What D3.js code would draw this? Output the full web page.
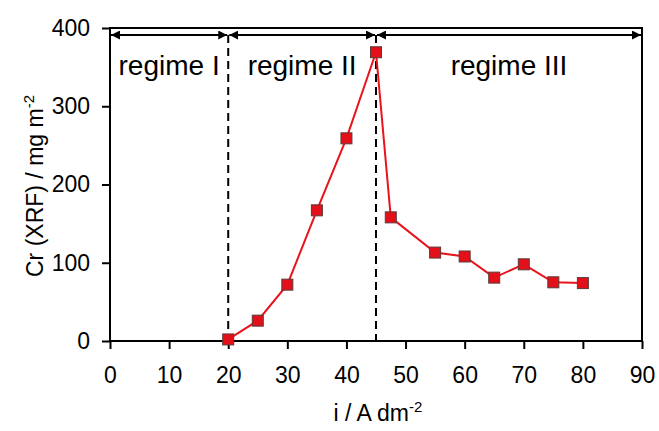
<!DOCTYPE html>
<html><head><meta charset="utf-8">
<script src="https://cdn.jsdelivr.net/npm/d3@7"></script>
<style>body{margin:0;background:#fff}svg{display:block;font-family:"Liberation Sans",Arial,sans-serif}</style>
</head><body>
<script>
const currentDensity = [20, 25, 30, 35, 40, 45, 47.5, 55, 60, 65, 70, 75, 80];
const crValues = [2, 26, 72, 167, 259, 369, 158, 113, 108, 81, 98, 75, 74];
const xTicks = [0, 10, 20, 30, 40, 50, 60, 70, 80, 90];
const yTicks = [0, 100, 200, 300, 400];
const regimeBounds = [0, 20, 45, 90];
const regimeLabels = ["regime I", "regime II", "regime III"];

const W = 659, H = 431;
const m = {left: 110, right: 642, top: 28, bottom: 341};
const svg = d3.select("body").append("svg").attr("width", W).attr("height", H);
const x = d3.scaleLinear().domain([0, 90]).range([m.left, m.right]);
const y = d3.scaleLinear().domain([0, 400]).range([m.bottom, m.top]);

// axes
const xa = svg.append("g").attr("transform", `translate(0,${m.bottom})`)
  .call(d3.axisBottom(x).tickValues(xTicks).tickSize(8).tickPadding(18));
const ya = svg.append("g").attr("transform", `translate(${m.left},0)`)
  .call(d3.axisLeft(y).tickValues(yTicks).tickSize(8).tickPadding(12));
[xa, ya].forEach(g => {
  g.select(".domain").remove();
  g.selectAll("line").attr("stroke", "#000").attr("stroke-width", 2);
  g.selectAll("text").attr("font-size", 23).attr("fill", "#000")
    .attr("font-family", "Liberation Sans, Arial, sans-serif");
});

// frame
svg.append("rect").attr("x", m.left).attr("y", m.top)
  .attr("width", m.right - m.left).attr("height", m.bottom - m.top)
  .attr("fill", "none").attr("stroke", "#000").attr("stroke-width", 2);

// arrow markers
const defs = svg.append("defs");
defs.append("marker").attr("id", "ah").attr("viewBox", "0 0 10 10")
  .attr("refX", 10).attr("refY", 5).attr("markerWidth", 9).attr("markerHeight", 9)
  .attr("markerUnits", "userSpaceOnUse").attr("orient", "auto-start-reverse")
  .append("path").attr("d", "M0,0 L10,5 L0,10 Z").attr("fill", "#000");

const arrowY = 35;
for (let i = 0; i < regimeLabels.length; i++) {
  svg.append("line").attr("x1", x(regimeBounds[i]) + 1).attr("x2", x(regimeBounds[i + 1]) - 1)
    .attr("y1", arrowY).attr("y2", arrowY)
    .attr("stroke", "#000").attr("stroke-width", 2)
    .attr("marker-start", "url(#ah)").attr("marker-end", "url(#ah)");
  svg.append("text").attr("x", (x(regimeBounds[i]) + x(regimeBounds[i + 1])) / 2)
    .attr("y", 75).attr("text-anchor", "middle").attr("font-size", 28)
    .attr("fill", "#000").text(regimeLabels[i]);
}
// dashed separators
[regimeBounds[1], regimeBounds[2]].forEach(v => {
  svg.append("line").attr("x1", x(v)).attr("x2", x(v)).attr("y1", arrowY).attr("y2", m.bottom)
    .attr("stroke", "#000").attr("stroke-width", 2).attr("stroke-dasharray", "8,5");
});

// data line
const pts = currentDensity.map((d, i) => [d, crValues[i]]);
svg.append("path").datum(pts)
  .attr("d", d3.line().x(d => x(d[0])).y(d => y(d[1])))
  .attr("fill", "none").attr("stroke", "#e8141b").attr("stroke-width", 2);
const s = 11;
svg.selectAll(".pt").data(pts).enter().append("rect")
  .attr("x", d => x(d[0]) - s / 2).attr("y", d => y(d[1]) - s / 2)
  .attr("width", s).attr("height", s)
  .attr("fill", "#e3101a").attr("stroke", "#5a3a3a").attr("stroke-width", 1);

// axis titles
const xt = svg.append("text").attr("x", 378).attr("y", 421).attr("text-anchor", "middle")
  .attr("font-size", 23).attr("fill", "#000");
xt.append("tspan").text("i / A dm");
xt.append("tspan").attr("font-size", 15).attr("dy", -9).text("-2");

const yt = svg.append("text").attr("transform", `translate(43,${186}) rotate(-90)`)
  .attr("text-anchor", "middle").attr("font-size", 23).attr("fill", "#000");
yt.append("tspan").text("Cr (XRF) / mg m");
yt.append("tspan").attr("font-size", 15).attr("dy", -9).text("-2");
</script>
</body></html>
